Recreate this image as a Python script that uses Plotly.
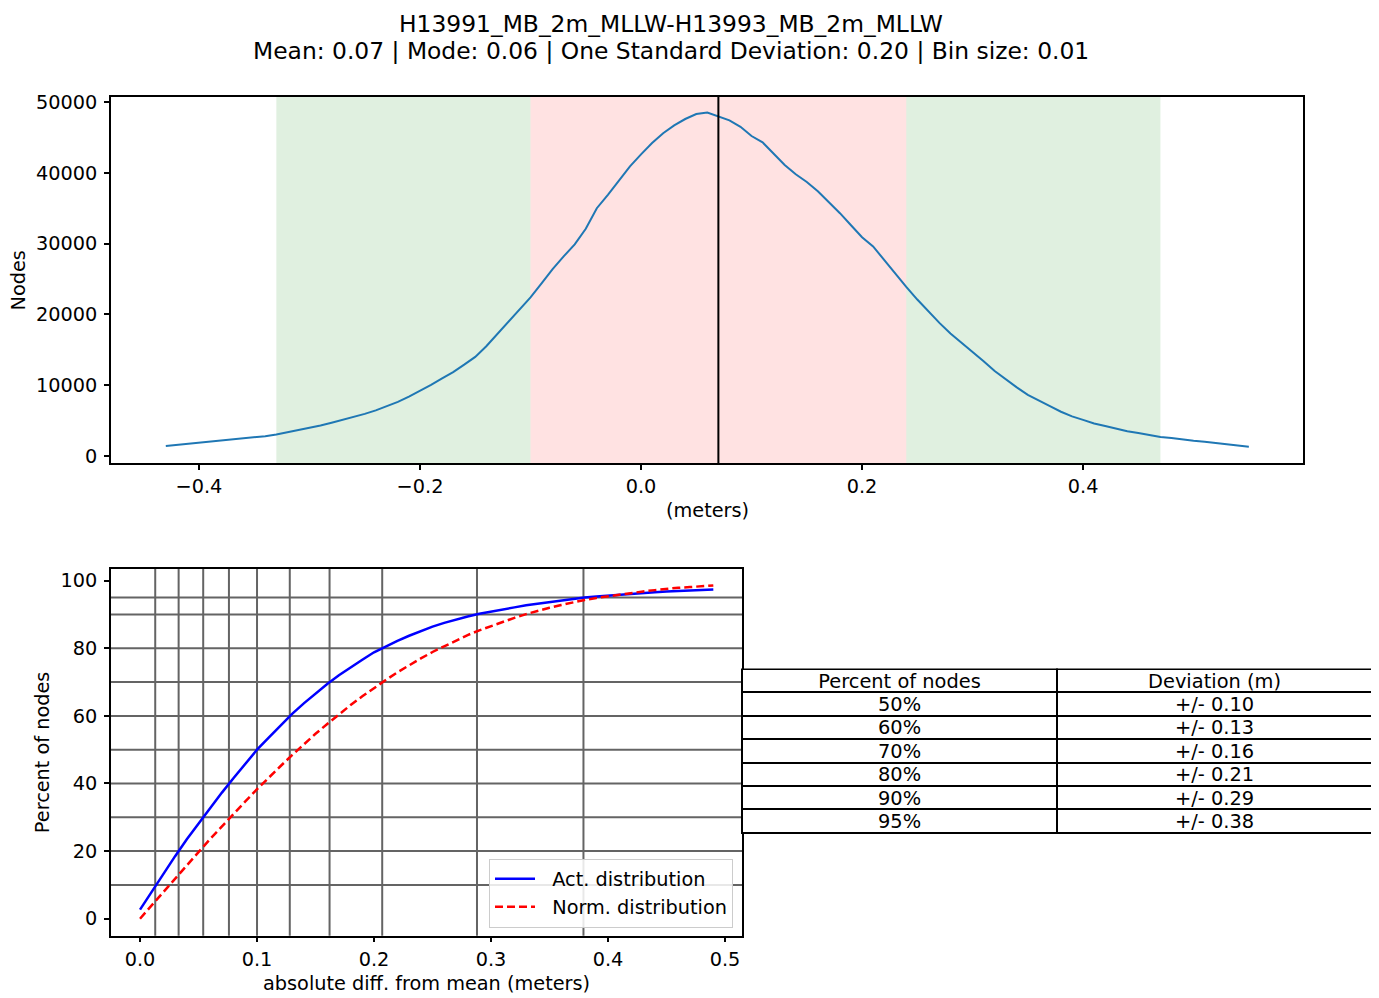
import plotly.graph_objects as go

W, H = 1379, 998
OFF = 8  # browser default body margin
FW, FH = W - OFF, H - OFF
FONT = "DejaVu Sans"

# ---------------- data ----------------
title_line1 = "H13991_MB_2m_MLLW-H13993_MB_2m_MLLW"
title_line2 = "Mean: 0.07 | Mode: 0.06 | One Standard Deviation: 0.20 | Bin size: 0.01"

bin_start = -0.43
bin_size = 0.01
hist_counts = [
    1400, 1550, 1700, 1850, 1980, 2120, 2270, 2430, 2600, 2800,
    3050, 3350, 3650, 3950, 4300, 4700, 5100, 5500, 5950, 6450,
    7000, 7650, 8400, 9200, 10050, 10950, 11850, 12900, 14000, 15500,
    17200, 18900, 20600, 22400, 24400, 26400, 28200, 29900, 32100, 35000,
    36900, 38900, 40900, 42600, 44200, 45600, 46700, 47600, 48300, 48500,
    47900, 47400, 46500, 45200, 44300, 42700, 41100, 39800, 38700, 37400,
    35900, 34300, 32600, 30900, 29600, 27700, 25700, 23900, 22100, 20400,
    18800, 17300, 16000, 14800, 13400, 12000, 10800, 9700, 8650, 7800,
    7050, 6250, 5600, 5100, 4600, 4250, 3850, 3500, 3250, 2950,
    2700, 2550, 2320, 2150, 2000, 1800, 1650, 1480, 1320,
]
hist_x = [round(bin_start + i * bin_size, 2) for i in range(len(hist_counts))]

mean_value = 0.07
red_span = [-0.10, 0.24]
green_spans = [[-0.33, -0.10], [0.24, 0.47]]

dev_x = [round(i * 0.01, 2) for i in range(50)]
act_pct = [
    2.7, 8.0, 13.5, 18.5, 23.5, 28.2, 32.8, 37.3, 41.6, 45.8,
    50.0, 53.6, 57.2, 60.6, 63.7, 66.6, 69.4, 72.0, 74.4, 76.6,
    78.8, 80.6, 82.2, 83.7, 85.1, 86.4, 87.5, 88.5, 89.4, 90.2,
    90.9, 91.5, 92.1, 92.7, 93.2, 93.7, 94.1, 94.5, 95.0, 95.3,
    95.6, 95.9, 96.2, 96.4, 96.6, 96.8, 97.0, 97.2, 97.3, 97.4,
]
norm_pct = [
    0.0, 4.0, 8.0, 11.9, 15.9, 19.7, 23.6, 27.4, 31.1, 34.7,
    38.3, 41.8, 45.1, 48.4, 51.6, 54.7, 57.6, 60.5, 63.2, 65.8,
    68.3, 70.6, 72.9, 75.0, 77.0, 78.9, 80.6, 82.3, 83.9, 85.3,
    86.6, 87.9, 89.0, 90.1, 91.1, 92.0, 92.8, 93.6, 94.3, 94.9,
    95.4, 96.0, 96.4, 96.8, 97.2, 97.6, 97.9, 98.1, 98.4, 98.6,
]
grid_pct = [10, 20, 30, 40, 50, 60, 70, 80, 90, 95]
grid_dev = [0.013, 0.033, 0.054, 0.076, 0.100, 0.128, 0.162, 0.207, 0.288, 0.379]

table_header = ["Percent of nodes", "Deviation (m)"]
table_pct = ["50%", "60%", "70%", "80%", "90%", "95%"]
table_dev = ["+/- 0.10", "+/- 0.13", "+/- 0.16", "+/- 0.21", "+/- 0.29", "+/- 0.38"]

# ---------------- layout helpers (reference pixel -> paper) ----------------
YB, YK = 4.8, 0.9917  # empirical vertical correction

def px_x(p):
    return min(1.0, max(0.0, (p - OFF) / FW))

def px_y(p):
    fy = (p - YB) / YK - OFF
    return min(1.0, max(0.0, 1 - fy / FH))

top_dom_x = [px_x(111), px_x(1303)]
top_dom_y = [px_y(463), px_y(96)]
bot_dom_x = [px_x(111), px_x(742)]
bot_dom_y = [px_y(937), px_y(569)]

fig = go.Figure()

fig.add_trace(go.Scatter(
    x=hist_x, y=hist_counts, mode="lines",
    line=dict(color="#1f77b4", width=2), showlegend=False,
    xaxis="x", yaxis="y",
))

fig.add_trace(go.Scatter(
    x=dev_x, y=act_pct, mode="lines", name="\u00a0\u00a0Act. distribution",
    line=dict(color="blue", width=2.5),
    xaxis="x2", yaxis="y2",
))
fig.add_trace(go.Scatter(
    x=dev_x, y=norm_pct, mode="lines", name="\u00a0\u00a0Norm. distribution",
    line=dict(color="red", width=2.5, dash="8px,4px"),
    xaxis="x2", yaxis="y2",
))

# table: borders (no text) ...
blank = [""] * len(table_pct)
fig.add_trace(go.Table(
    domain=dict(x=[px_x(742), px_x(1372)], y=[px_y(837), px_y(670)]),
    columnwidth=[1, 1],
    header=dict(values=["", ""], height=23, fill_color="white",
                line=dict(color="black", width=2),
                font=dict(family=FONT, size=19.4, color="black")),
    cells=dict(values=[blank, blank], height=23.4, fill_color="white",
               line=dict(color="black", width=2),
               font=dict(family=FONT, size=19.4, color="black")),
))
# ... and the text, raised slightly so it sits centred in each row
fig.add_trace(go.Table(
    domain=dict(x=[px_x(742), px_x(1372)], y=[px_y(833), px_y(666)]),
    columnwidth=[1, 1],
    header=dict(values=table_header, height=23, align="center",
                fill_color="rgba(0,0,0,0)", line=dict(color="rgba(0,0,0,0)", width=0),
                font=dict(family=FONT, size=19.4, color="black")),
    cells=dict(values=[table_pct, table_dev], height=23.4, align="center",
               fill_color="rgba(0,0,0,0)", line=dict(color="rgba(0,0,0,0)", width=0),
               font=dict(family=FONT, size=19.4, color="black")),
))

shapes = []
for g in green_spans:
    shapes.append(dict(type="rect", xref="x", yref="y domain", x0=g[0], x1=g[1], y0=0, y1=1,
                       fillcolor="rgba(0,128,0,0.12)", line=dict(width=0), layer="below"))
shapes.append(dict(type="rect", xref="x", yref="y domain", x0=red_span[0], x1=red_span[1], y0=0, y1=1,
                   fillcolor="rgba(255,0,0,0.115)", line=dict(width=0), layer="below"))
shapes.append(dict(type="line", xref="x", yref="y domain", x0=mean_value, x1=mean_value, y0=0, y1=1,
                   line=dict(color="black", width=2), layer="above"))
for d in grid_dev:
    shapes.append(dict(type="line", xref="x2", yref="y2 domain", x0=d, x1=d, y0=0, y1=1,
                       line=dict(color="#646464", width=2), layer="below"))
for p in grid_pct:
    shapes.append(dict(type="line", xref="x2 domain", yref="y2", x0=0, x1=1, y0=p, y1=p,
                       line=dict(color="#646464", width=2), layer="below"))

FS = 19.3
tickfont = dict(family=FONT, size=FS, color="black")
axis_common = dict(showline=True, mirror=True, linecolor="black", linewidth=1.5,
                   ticks="outside", ticklen=5, tickwidth=1.5, tickcolor="black",
                   showgrid=False, zeroline=False, tickfont=tickfont)

def ann(text, x, y, size=FS, angle=0):
    return dict(text=text, x=px_x(x), y=px_y(y), xref="paper", yref="paper", textangle=angle,
                showarrow=False, font=dict(family=FONT, size=size, color="black"),
                xanchor="center", yanchor="middle")

annotations = [
    ann(title_line1, 671, 23, size=23.4),
    ann(title_line2, 671, 50, size=23.4),
    ann("Nodes", 19, 280, angle=-90),
    ann("(meters)", 707, 511),
    ann("Percent of nodes", 42, 753, angle=-90),
    ann("absolute diff. from mean (meters)", 426, 985),
]

fig.update_layout(
    width=FW, height=FH, autosize=False,
    margin=dict(l=0, r=0, t=0, b=0),
    paper_bgcolor="white", plot_bgcolor="white",
    font=dict(family=FONT, size=FS, color="black"),
    xaxis=dict(domain=top_dom_x, anchor="y", range=[-0.4796, 0.599],
               tickvals=[-0.4, -0.2, 0.0, 0.2, 0.4], tickformat=".1f",
               ticklabelstandoff=0, **axis_common),
    yaxis=dict(domain=top_dom_y, anchor="x", range=[-986, 50704],
               tickvals=[0, 10000, 20000, 30000, 40000, 50000], tickformat="d",
               ticklabelstandoff=3, **axis_common),
    xaxis2=dict(domain=bot_dom_x, anchor="y2", range=[-0.0248, 0.5145],
                tickvals=[0.0, 0.1, 0.2, 0.3, 0.4, 0.5], tickformat=".1f",
                ticklabelstandoff=0, **axis_common),
    yaxis2=dict(domain=bot_dom_y, anchor="x2", range=[-5.01, 103.54],
                tickvals=[0, 20, 40, 60, 80, 100],
                ticklabelstandoff=3, **axis_common),
    shapes=shapes,
    annotations=annotations,
    legend=dict(x=px_x(733), y=px_y(929), xanchor="right", yanchor="bottom",
                bgcolor="rgba(255,255,255,0.85)", bordercolor="#cccccc", borderwidth=1,
                font=dict(family=FONT, size=FS, color="black"),
                tracegroupgap=0, itemwidth=40),
)

fig.write_html("out.html")
